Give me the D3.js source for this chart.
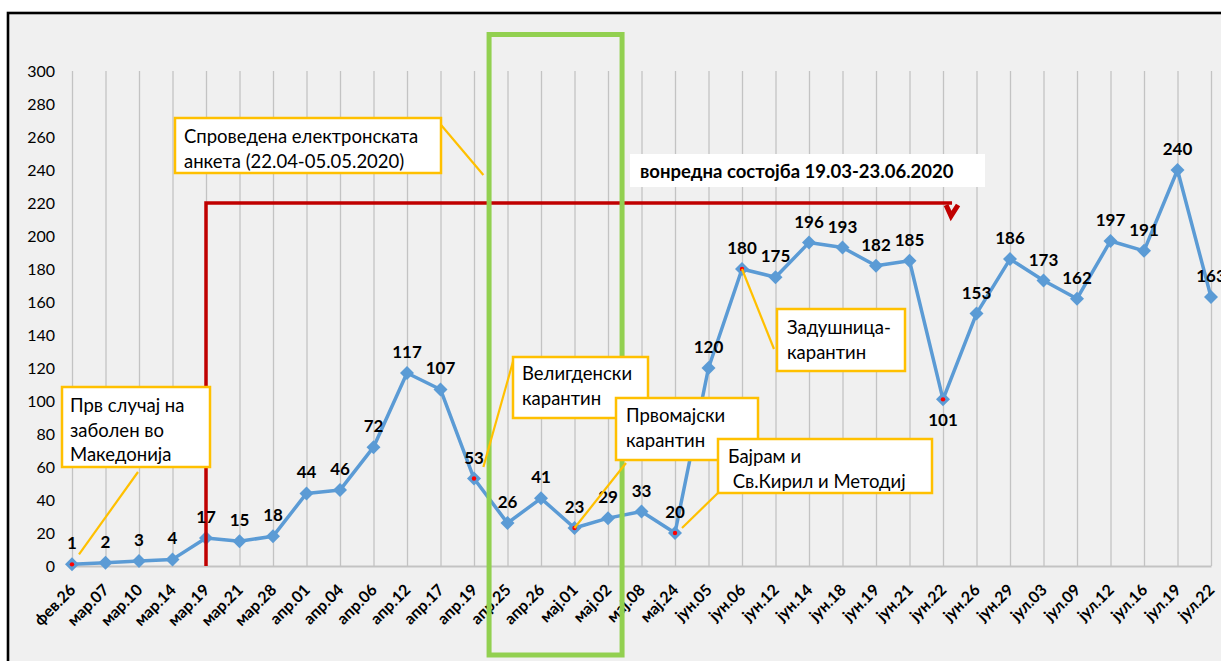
<!DOCTYPE html>
<html><head><meta charset="utf-8">
<script src="https://cdn.jsdelivr.net/npm/d3@7/dist/d3.min.js"></script>
<style>
body{margin:0;background:#fff;}
svg{display:block;font-family:Lato,"Noto Sans",sans-serif;}
</style>
</head><body>
<svg id="chart" width="1221" height="661"></svg>
<script>
const categories = ["фев.26","мар.07","мар.10","мар.14","мар.19","мар.21","мар.28","апр.01","апр.04","апр.06","апр.12","апр.17","апр.19","апр.25","апр.26","мај.01","мај.02","мај.08","мај.24","јун.05","јун.06","јун.12","јун.14","јун.18","јун.19","јун.21","јун.22","јун.26","јун.29","јул.03","јул.09","јул.12","јул.16","јул.19","јул.22"];
const values = [1,2,3,4,17,15,18,44,46,72,117,107,53,26,41,23,29,33,20,120,180,175,196,193,182,185,101,153,186,173,162,197,191,240,163];
const yTickValues = [0,20,40,60,80,100,120,140,160,180,200,220,240,260,280,300];
const markedDates = ["фев.26","апр.19","мај.01","мај.24","јун.06","јун.22"];
const labelBelowDates = ["јун.22"];
const emergencyText = "вонредна состојба 19.03-23.06.2020";
const emergencyStart = "мар.19";
const emergencyEndAfter = "јун.22";
const emergencyLevel = 220;
const surveyFrom = "апр.19", surveyTo = "мај.02";

const svg = d3.select("#chart");
const x = d3.scalePoint().domain(categories).range([72, 1211]);
const y = d3.scaleLinear().domain([0, 300]).range([566, 71]);
const step = x.step();

// frame
svg.append("rect").attr("x", 8).attr("y", 13).attr("width", 1240).attr("height", 700)
  .attr("fill", "#f0f0f0").attr("stroke", "#000").attr("stroke-width", 2.6);

// vertical gridlines
const grid = svg.append("g").attr("transform", `translate(0,${y(0)})`)
  .call(d3.axisBottom(x).tickSize(-(y(0) - y(300))).tickFormat(""));
grid.select(".domain").remove();
grid.selectAll(".tick line").attr("stroke", "#c3c3c3").attr("stroke-width", 1.3);

// x axis with rotated labels
const xAxis = svg.append("g").attr("transform", `translate(0,${y(0)})`)
  .call(d3.axisBottom(x).tickSize(0).tickSizeOuter(0));
xAxis.select(".domain").attr("stroke", "#c3c3c3").attr("stroke-width", 2);
xAxis.selectAll(".tick text")
  .attr("font-size", 16).attr("font-weight", "bold").attr("fill", "#000")
  .attr("font-family", "Lato")
  .attr("text-anchor", "end")
  .attr("y", 0).attr("dy", 0)
  .attr("transform", "translate(4,25) rotate(-45)");

// y axis
const yAxis = svg.append("g").attr("transform", `translate(${x(categories[0])},0)`)
  .call(d3.axisLeft(y).tickValues(yTickValues).tickSize(0).tickPadding(17));
yAxis.select(".domain").remove();
yAxis.selectAll(".tick text").attr("font-size", 16).attr("fill", "#000").attr("font-family", "Lato");

// data line
const data = categories.map((c, i) => ({c, v: values[i]}));
svg.append("path").datum(data)
  .attr("fill", "none").attr("stroke", "#5b9bd5").attr("stroke-width", 3.5)
  .attr("stroke-linejoin", "round")
  .attr("d", d3.line().x(d => x(d.c)).y(d => y(d.v)));
svg.append("g").selectAll("path").data(data).join("path")
  .attr("transform", d => `translate(${x(d.c)},${y(d.v)})`)
  .attr("d", "M0,-7L7,0L0,7L-7,0Z")
  .attr("fill", "#5b9bd5");

// emergency red line
const ex0 = x(emergencyStart), ex1 = x(emergencyEndAfter) + step * 0.27;
const ey = y(emergencyLevel);
svg.append("path")
  .attr("d", `M${ex0},${y(0)}V${ey}H${ex1}`)
  .attr("fill", "none").attr("stroke", "#c00000").attr("stroke-width", 3.5);
svg.append("path")
  .attr("d", `M${ex1 - 6},${ey + 2}L${ex1 - 1},${ey + 13}L${ex1 + 6},${ey + 2}`)
  .attr("fill", "none").attr("stroke", "#c00000").attr("stroke-width", 5)
  .attr("stroke-linejoin", "miter");

// data labels
svg.append("g").selectAll("text").data(data).join("text")
  .attr("x", d => x(d.c))
  .attr("y", d => labelBelowDates.includes(d.c) ? y(d.v) + 27 : y(d.v) - 15)
  .attr("text-anchor", "middle").attr("font-size", 17).attr("font-weight", "bold")
  .attr("fill", "#000").text(d => d.v);

// red centre dots
svg.append("g").selectAll("circle").data(data.filter(d => markedDates.includes(d.c))).join("circle")
  .attr("cx", d => x(d.c)).attr("cy", d => y(d.v)).attr("r", 2.2).attr("fill", "#ff0000");

// survey green rectangle
const gx0 = x(surveyFrom) + step * 0.45, gx1 = x(surveyTo) + step * 0.42;
svg.append("rect").attr("x", gx0).attr("y", 34.5).attr("width", gx1 - gx0).attr("height", 655 - 34.5)
  .attr("fill", "none").attr("stroke", "#92d050").attr("stroke-width", 5);

// emergency label box
svg.append("rect").attr("x", 630).attr("y", 154).attr("width", 355).attr("height", 33).attr("fill", "#fff");
svg.append("text").attr("x", 640).attr("y", 178).attr("font-size", 18.5).attr("font-weight", "bold")
  .attr("fill", "#000").text(emergencyText);

// callouts
const callouts = [
  {lines: ["Спроведена електронската", "анкета (22.04-05.05.2020)"], box: [175, 118, 266, 55], tx: 184, ty: 143,
   leader: [[436, 119], [x(surveyFrom) + step * 0.28, 175]]},
  {lines: ["Прв случај на", "заболен во", "Македонија"], box: [62, 387, 148, 80], tx: 70, ty: 412,
   leader: [[138, 472], [x("фев.26") + 7, y(values[0]) - 10]]},
  {lines: ["Задушница-", "карантин"], box: [777, 309, 128, 62], tx: 787, ty: 334,
   leader: [[774, 349], [x("јун.06"), y(180)]]},
  {lines: ["Велигденски", "карантин"], box: [513, 357, 135, 61], tx: 522, ty: 380,
   leader: [[514, 358], [x(surveyFrom) + step * 0.28, 467]]},
  {lines: ["Првомајски", "карантин"], box: [616, 398, 142, 62], tx: 626, ty: 422,
   leader: [[626, 463], [x("мај.01"), y(23)]]},
  {lines: ["Бајрам и", "\u00a0Св.Кирил и Методиј"], box: [718, 439, 214, 54], tx: 728, ty: 463,
   leader: [[722, 489], [x("мај.24") + 7, y(20) - 5]]}
];
const cg = svg.append("g");
callouts.forEach(c => {
  cg.append("line").attr("x1", c.leader[0][0]).attr("y1", c.leader[0][1])
    .attr("x2", c.leader[1][0]).attr("y2", c.leader[1][1])
    .attr("stroke", "#ffc000").attr("stroke-width", 2.2);
});
callouts.forEach(c => {
  cg.append("rect").attr("x", c.box[0]).attr("y", c.box[1]).attr("width", c.box[2]).attr("height", c.box[3])
    .attr("fill", "#fff").attr("stroke", "#ffc000").attr("stroke-width", 2.5);
  const t = cg.append("text").attr("font-size", 18.5).attr("fill", "#000");
  c.lines.forEach((l, i) => t.append("tspan").attr("x", c.tx).attr("y", c.ty + i * 24.5).text(l));
});
</script>
</body></html>
